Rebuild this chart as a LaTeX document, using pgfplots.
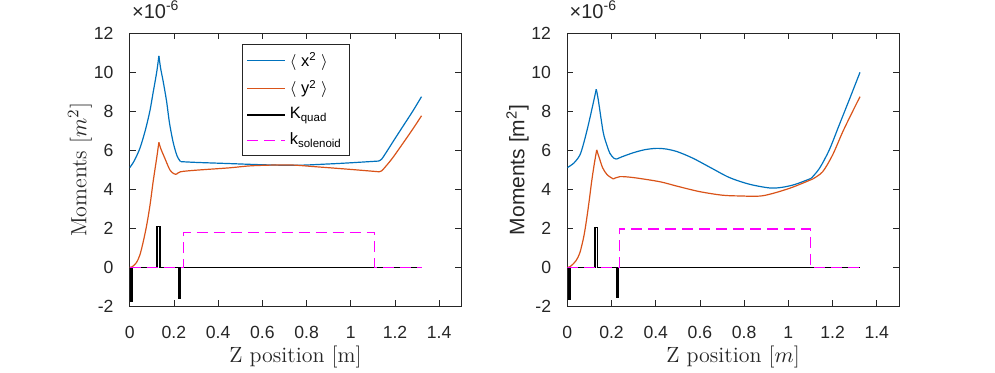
\documentclass[border=0pt]{standalone}
\usepackage{fontspec}
\usepackage{pgfplots}
\pgfplotsset{compat=1.18}
\newfontfamily\arial{Liberation Sans}
\definecolor{mblue}{rgb}{0,0.447,0.741}
\definecolor{morange}{rgb}{0.85,0.325,0.098}
\definecolor{mmag}{rgb}{1,0,1}
\definecolor{axgray}{rgb}{0.15,0.15,0.15}
\pgfplotsset{
  momplot/.style={
    scale only axis, width=165.8pt, height=136.5pt,
    xmin=0, xmax=1.5, ymin=-2, ymax=12,
    xtick={0,0.2,0.4,0.6,0.8,1,1.2,1.4},
    ytick={-2,0,2,4,6,8,10,12},
    tick align=inside, major tick length=3pt,
    axis line style={axgray, line width=0.4pt},
    tick style={axgray, line width=0.4pt},
    tick label style={font=\arial\fontsize{8.8}{10}\selectfont, text=axgray},
    xticklabel style={yshift=-6.3pt},
    yticklabel style={xshift=-4.6pt},
    /pgf/number format/assume math mode=true,
    scaled ticks=false,
    clip mode=individual,
    ylabel style={at={(axis description cs:-0.15,0.5)}, anchor=center},
    xlabel style={at={(axis description cs:0.5,-0.184)}, anchor=center},
    label style={font=\fontsize{11}{12}\selectfont, text=axgray},
    every axis plot/.append style={line width=0.6pt},
  },
  seg/.style={smooth, tension=0.5},
  quad/.style={black, line width=0.7pt},
  sol/.style={mmag, dash pattern=on 5.5pt off 3pt},
}
\newcommand{\scalelabel}{%
  \node[anchor=base west, inner sep=0pt, font=\arial\fontsize{10}{12}\selectfont, text=axgray]
    at (rel axis cs:0.006,1) [yshift=7.6pt] {×10\textsuperscript{-6}};}
\begin{document}
\begin{tikzpicture}
\useasboundingbox (-64.85pt,-32.85pt) rectangle (432.65pt,153.15pt);
% left panel
\begin{axis}[momplot, at={(0pt,0pt)}, anchor=south west,
  xlabel={Z position [m]}, ylabel={Moments [$m^2$]},
  legend style={at={(axis description cs:0.339,0.961)}, anchor=north west,
    draw=axgray, line width=0.4pt, fill=white, inner sep=2pt,
    font=\arial\fontsize{8.2}{9.5}\selectfont, row sep=1.5pt,
    cells={anchor=west}},
  legend cell align=left,
  legend image code/.code={\draw[#1] (0pt,0pt) -- (19pt,0pt);}]
\addplot[mblue, seg] coordinates {
(0,5.11) (0.02,5.45) (0.046,6.1) (0.07,7.0) (0.091,8.0) (0.105,8.9) (0.122,10.0) (0.132,10.84)};
\addlegendentry{$\langle$ x\textsuperscript{2} $\rangle$}
\addplot[morange, seg] coordinates {
(0,0) (0.01,0.02) (0.016,0.07) (0.031,0.25) (0.046,0.63) (0.061,1.3) (0.077,2.17) (0.092,3.2)
(0.106,4.39) (0.122,5.6) (0.132,6.41)};
\addlegendentry{$\langle$ y\textsuperscript{2} $\rangle$}
\addplot[quad] coordinates {
(0,0) (0.005,0) (0.005,-1.72) (0.012,-1.72) (0.012,0) (0.124,0) (0.124,2.08) (0.137,2.08) (0.137,0)
(0.223,0) (0.223,-1.6) (0.231,-1.6) (0.231,0) (1.32,0)};
\addlegendentry{K\textsubscript{quad}}
\addplot[sol] coordinates {
(0,0) (0.243,0) (0.243,1.79) (1.109,1.79) (1.109,0) (1.32,0)};
\addlegendentry{k\textsubscript{solenoid}}
% remaining pieces of the moment curves
\addplot[mblue, seg, forget plot] coordinates {
(0.132,10.84) (0.14,10.2) (0.152,9.5) (0.167,8.5) (0.18,7.4) (0.196,6.44) (0.21,5.85) (0.219,5.6) (0.23,5.42)};
\addplot[mblue, seg, forget plot] coordinates {
(0.23,5.42) (0.3,5.38) (0.45,5.32) (0.6,5.26) (0.75,5.23) (0.9,5.3) (1.0,5.36) (1.127,5.45)};
\addplot[mblue, seg, forget plot] coordinates {
(1.127,5.45) (1.14,5.55) (1.155,5.8) (1.172,6.1) (1.2,6.6) (1.24,7.3) (1.28,8.0) (1.32,8.75)};
\addplot[morange, seg, forget plot] coordinates {
(0.132,6.41) (0.14,6.1) (0.159,5.59) (0.182,4.99) (0.2,4.8) (0.212,4.77)};
\addplot[morange, seg, forget plot] coordinates {
(0.212,4.77) (0.23,4.9) (0.3,4.98) (0.45,5.1) (0.556,5.21) (0.72,5.25) (0.85,5.15) (1.0,5.02) (1.127,4.9)};
\addplot[morange, seg, forget plot] coordinates {
(1.127,4.9) (1.14,4.95) (1.16,5.2) (1.188,5.59) (1.22,6.1) (1.26,6.75) (1.29,7.25) (1.32,7.77)};
% redraw the step lines on top
\addplot[quad, forget plot] coordinates {(0.231,0) (1.32,0)};
\addplot[sol, forget plot] coordinates {
(0,0) (0.243,0) (0.243,1.79) (1.109,1.79) (1.109,0) (1.32,0)};
\scalelabel
\end{axis}
% right panel
\begin{axis}[momplot, at={(218.8pt,0pt)}, anchor=south west,
  xlabel={Z position [$m$]},
  ylabel={\arial\fontsize{10.5}{12}\selectfont Moments [m\textsuperscript{2}]}]
\addplot[mblue, seg] coordinates {
(0,5.11) (0.03,5.35) (0.057,5.76) (0.075,6.4) (0.095,7.3) (0.113,8.2) (0.131,9.13)};
\addplot[mblue, seg] coordinates {
(0.131,9.13) (0.14,8.6) (0.162,6.95) (0.178,6.3) (0.193,5.84) (0.21,5.6) (0.223,5.55)};
\addplot[mblue, seg] coordinates {
(0.223,5.55) (0.25,5.68) (0.3,5.88) (0.35,6.03) (0.403,6.1) (0.45,6.06) (0.5,5.92) (0.569,5.59)
(0.65,5.1) (0.734,4.6) (0.824,4.26) (0.915,4.07) (0.97,4.1) (1.03,4.25) (1.103,4.56)};
\addplot[mblue, seg] coordinates {
(1.103,4.56) (1.141,5.08) (1.185,6.02) (1.23,7.3) (1.275,8.58) (1.324,10.0)};
\addplot[morange, seg] coordinates {
(0,0) (0.01,0.02) (0.02,0.1) (0.04,0.35) (0.057,0.75) (0.075,1.6) (0.088,2.51) (0.1,3.5) (0.11,4.39)
(0.122,5.3) (0.133,6.02)};
\addplot[morange, seg] coordinates {
(0.133,6.02) (0.145,5.6) (0.16,5.1) (0.18,4.75) (0.208,4.53)};
\addplot[morange, seg] coordinates {
(0.208,4.53) (0.238,4.65) (0.3,4.6) (0.418,4.39) (0.5,4.15) (0.599,3.88) (0.7,3.7) (0.779,3.66)
(0.884,3.67) (1.005,4.05) (1.11,4.53)};
\addplot[morange, seg] coordinates {
(1.11,4.53) (1.155,4.9) (1.2,5.76) (1.246,6.95) (1.29,7.98) (1.324,8.75)};
\addplot[quad] coordinates {
(0,0) (0.005,0) (0.005,-1.66) (0.012,-1.66) (0.012,0) (0.125,0) (0.125,2.05) (0.137,2.05) (0.137,0)
(0.223,0) (0.223,-1.52) (0.230,-1.52) (0.230,0) (1.324,0)};
\addplot[sol] coordinates {
(0,0) (0.235,0) (0.235,1.96) (1.1,1.96) (1.1,0) (1.324,0)};
\scalelabel
\end{axis}
\end{tikzpicture}
\end{document}
